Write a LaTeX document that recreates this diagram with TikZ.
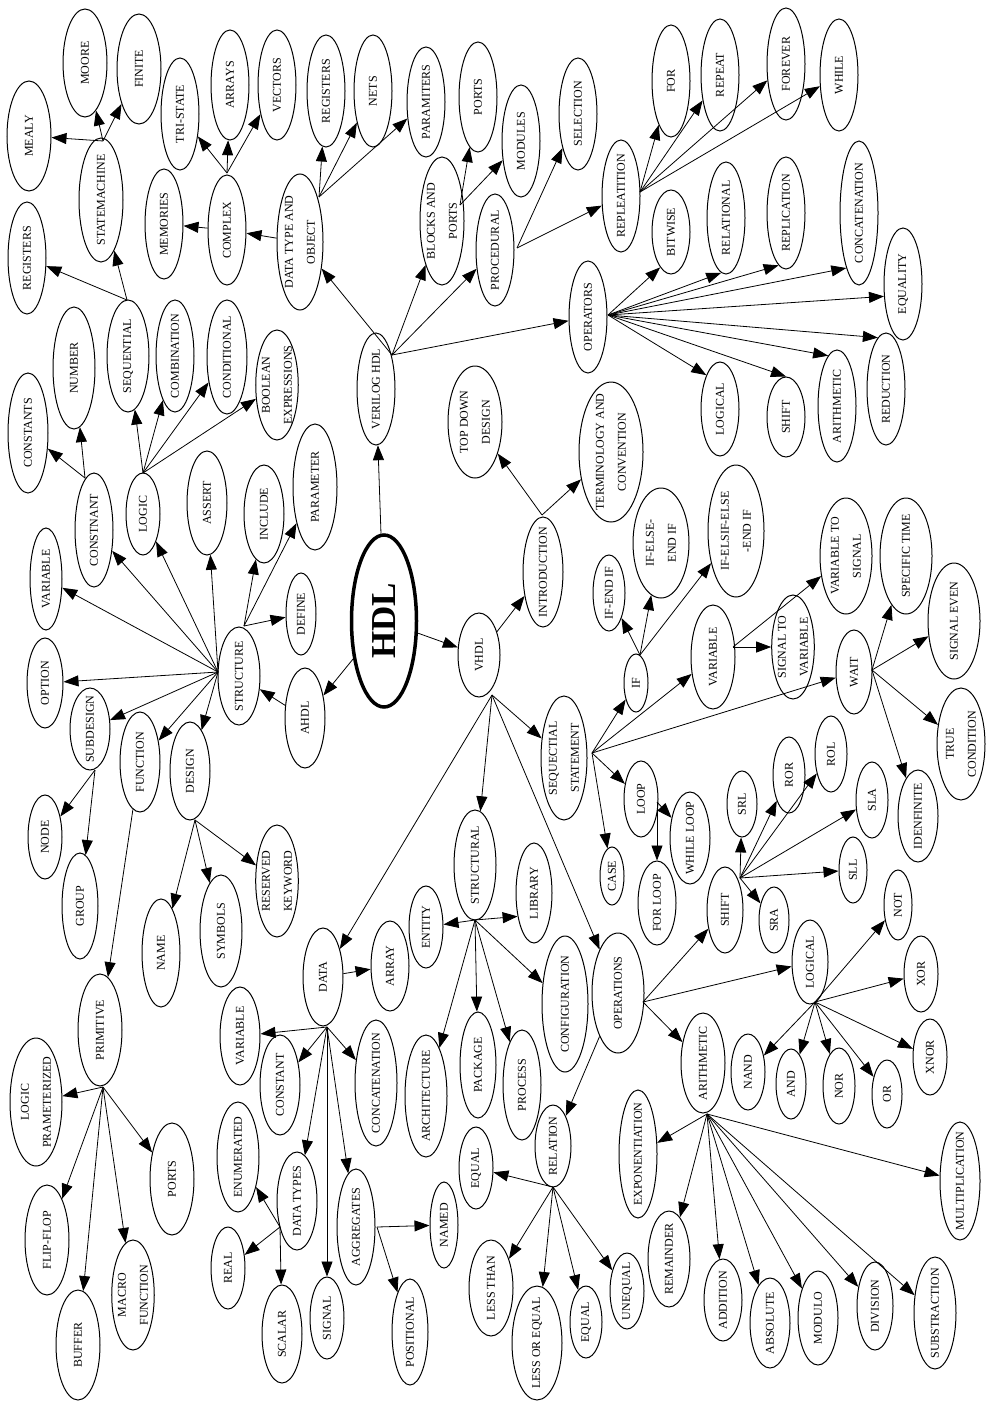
\documentclass[tikz,border=0pt]{standalone}
\usepackage{fontspec}
\setmainfont{Liberation Serif}
\usetikzlibrary{shapes.geometric, arrows.meta}

\begin{document}
\begin{tikzpicture}[x=1pt, y=-1pt, >={Triangle[length=15pt,width=11pt]},
    bub/.style={ellipse, draw, line width=1pt, rotate=90, inner xsep=-30pt, inner ysep=0pt,
                align=center, font=\fontsize{12}{22}\selectfont},
    sz/.style 2 args={minimum width=#1pt, minimum height=#2pt},
    arr/.style={->, line width=0.8pt}]
    \useasboundingbox (0,0) rectangle (985,1405);

    % 中心节点
    \node[bub, sz={172}{65}, line width=3.5pt, font=\fontsize{35}{40}\selectfont\bfseries] (hdl) at (384,621) {HDL};

    % 1. VERILOG HDL 分支
    \node[bub, sz={112}{38}] (verilog) at (376,389) {VERILOG HDL};
    \node[bub, sz={136}{46}] (dto) at (300,242) {DATA TYPE AND\\OBJECT};
    \node[bub, sz={112}{38}] (regdt) at (326,91) {REGISTERS};
    \node[bub, sz={112}{38}] (nets) at (373,91) {NETS};
    \node[bub, sz={110}{38}] (paramiters) at (426,102) {PARAMITERS};
    \node[bub, sz={110}{38}] (complex) at (227,230) {COMPLEX};
    \node[bub, sz={110}{38}] (memories) at (164,224) {MEMORIES};
    \node[bub, sz={112}{38}] (tristate) at (180,114) {TRI-STATE};
    \node[bub, sz={110}{38}] (arrays) at (230,85) {ARRAYS};
    \node[bub, sz={110}{38}] (vectors) at (277,85) {VECTORS};
    \node[bub, sz={128}{44}] (blocks) at (442,221) {BLOCKS AND\\PORTS};
    \node[bub, sz={110}{38}] (portsv) at (478,97) {PORTS};
    \node[bub, sz={112}{38}] (modules) at (521,141) {MODULES};
    \node[bub, sz={112}{38}] (procedural) at (495,250) {PROCEDURAL};
    \node[bub, sz={112}{38}] (selection) at (578,114) {SELECTION};
    \node[bub, sz={112}{38}] (repleatition) at (621,196) {REPLEATITION};
    \node[bub, sz={112}{38}] (for) at (671,81) {FOR};
    \node[bub, sz={112}{38}] (repeat) at (720,75) {REPEAT};
    \node[bub, sz={112}{38}] (forever) at (786,64) {FOREVER};
    \node[bub, sz={112}{38}] (while) at (839,75) {WHILE};
    \node[bub, sz={112}{38}] (operatorsv) at (588,317) {OPERATORS};
    \node[bub, sz={84}{38}] (bitwise) at (671,232) {BITWISE};
    \node[bub, sz={112}{38}] (relational) at (726,218) {RELATIONAL};
    \node[bub, sz={112}{38}] (replication) at (786,213) {REPLICATION};
    \node[bub, sz={144}{38}] (concatv) at (859,213) {CONCATENATION};
    \node[bub, sz={112}{38}] (equality) at (903,284) {EQUALITY};
    \node[bub, sz={112}{38}] (reduction) at (886,389) {REDUCTION};
    \node[bub, sz={112}{38}] (arithv) at (837,406) {ARITHMETIC};
    \node[bub, sz={80}{38}] (shiftv) at (786,417) {SHIFT};
    \node[bub, sz={94}{38}] (logicalv) at (720,409) {LOGICAL};

    % 2. AHDL 分支
    \node[bub, sz={100}{40}] (ahdl) at (305,718) {AHDL};
    \node[bub, sz={98}{42}] (structure) at (239,676) {STRUCTURE};
    \node[bub, sz={114}{38}] (constant) at (94,530) {CONSTNANT};
    \node[bub, sz={120}{40}] (constants) at (28,433) {CONSTANTS};
    \node[bub, sz={122}{42}] (number) at (74,368) {NUMBER};
    \node[bub, sz={82}{34}] (logic) at (143,514) {LOGIC};
    \node[bub, sz={112}{42}] (sequential) at (128,356) {SEQUENTIAL};
    \node[bub, sz={112}{38}] (combination) at (175,356) {COMBINATION};
    \node[bub, sz={114}{40}] (conditional) at (227,357) {CONDITIONAL};
    \node[bub, sz={110}{40}] (boolean) at (277,385) {BOOLEAN\\EXPRESSIONS};
    \node[bub, sz={112}{38}] (regseq) at (27,258) {REGISTERS};
    \node[bub, sz={124}{44}] (statemachine) at (101,200) {STATEMACHINE};
    \node[bub, sz={110}{44}] (mealy) at (29,136) {MEALY};
    \node[bub, sz={108}{44}] (moore) at (85,63) {MOORE};
    \node[bub, sz={110}{44}] (finite) at (139,69) {FINITE};
    \node[bub, sz={104}{40}] (assert) at (207,503) {ASSERT};
    \node[bub, sz={98}{40}] (include) at (264,514) {INCLUDE};
    \node[bub, sz={126}{44}] (parameter) at (315,487) {PARAMETER};
    \node[bub, sz={82}{30}] (define) at (301,614) {DEFINE};
    \node[bub, sz={102}{32}] (variablea) at (46,579) {VARIABLE};
    \node[bub, sz={90}{36}] (option) at (45,683) {OPTION};
    \node[bub, sz={82}{40}] (subdesign) at (90,729) {SUBDESIGN};
    \node[bub, sz={84}{34}] (node) at (45,837) {NODE};
    \node[bub, sz={106}{36}] (group) at (80,906) {GROUP};
    \node[bub, sz={100}{40}] (function) at (140,762) {FUNCTION};
    \node[bub, sz={98}{40}] (design) at (190,771) {DESIGN};
    \node[bub, sz={108}{38}] (name) at (161,953) {NAME};
    \node[bub, sz={112}{42}] (symbols) at (221,931) {SYMBOLS};
    \node[bub, sz={112}{36}] (reserved) at (277,881) {RESERVED\\KEYWORD};
    \node[bub, sz={112}{44}] (primitive) at (100,1030) {PRIMITIVE};
    \node[bub, sz={128}{52}] (logicpar) at (36,1102) {LOGIC\\PRAMETERIZED};
    \node[bub, sz={110}{44}] (flipflop) at (47,1240) {FLIP-FLOP};
    \node[bub, sz={110}{44}] (buffer) at (78,1345) {BUFFER};
    \node[bub, sz={110}{42}] (macro) at (133,1295) {MACRO\\FUNCTION};
    \node[bub, sz={112}{44}] (portsp) at (172,1179) {PORTS};

    % 3. VHDL 分支
    \node[bub, sz={84}{42}] (vhdl) at (479,655) {VHDL};
    \node[bub, sz={110}{40}] (intro) at (543,572) {INTRODUCTION};
    \node[bub, sz={112}{54}] (topdown) at (475,422) {TOP DOWN\\DESIGN};
    \node[bub, sz={140}{64}] (term) at (611,452) {TERMINOLOGY AND\\CONVENTION};
    \node[bub, sz={124}{46}] (seqst) at (564,758) {SEQUECTIAL\\STATEMENT};
    \node[bub, sz={58}{24}] (ifn) at (636,683) {IF};
    \node[bub, sz={76}{32}] (ifend) at (609,593) {IF-END IF};
    \node[bub, sz={110}{56}] (ifelse) at (661,543) {IF-ELSE-\\END IF};
    \node[bub, sz={132}{56}] (ifelsif) at (736,531) {IF-ELSIF-ELSE\\-END IF};
    \node[bub, sz={104}{44}] (variablev) at (713,657) {VARIABLE};
    \node[bub, sz={104}{40}] (sigtovar) at (793,647) {SIGNAL TO\\VARIABLE};
    \node[bub, sz={116}{52}] (vartosig) at (846,556) {VARIABLE TO\\SIGNAL};
    \node[bub, sz={84}{36}] (wait) at (854,672) {WAIT};
    \node[bub, sz={116}{52}] (spectime) at (906,556) {SPECIFIC TIME};
    \node[bub, sz={116}{52}] (sigeven) at (954,621) {SIGNAL EVEN};
    \node[bub, sz={112}{48}] (truecond) at (961,744) {TRUE\\CONDITION};
    \node[bub, sz={92}{40}] (idenfinite) at (918,816) {IDENFINITE};
    \node[bub, sz={76}{34}] (loop) at (641,799) {LOOP};
    \node[bub, sz={92}{40}] (whileloop) at (690,838) {WHILE LOOP};
    \node[bub, sz={84}{38}] (forloop) at (657,903) {FOR LOOP};
    \node[bub, sz={58}{24}] (case) at (612,876) {CASE};
    \node[bub, sz={120}{52}] (operations) at (618,993) {OPERATIONS};
    \node[bub, sz={86}{36}] (shift) at (725,910) {SHIFT};
    \node[bub, sz={66}{30}] (srl) at (742,804) {SRL};
    \node[bub, sz={76}{32}] (ror) at (789,775) {ROR};
    \node[bub, sz={76}{32}] (rol) at (831,754) {ROL};
    \node[bub, sz={76}{32}] (sla) at (872,800) {SLA};
    \node[bub, sz={66}{28}] (sll) at (853,870) {SLL};
    \node[bub, sz={66}{30}] (sra) at (774,920) {SRA};
    \node[bub, sz={84}{36}] (logicalh) at (810,962) {LOGICAL};
    \node[bub, sz={70}{28}] (not) at (898,905) {NOT};
    \node[bub, sz={76}{34}] (xor) at (921,974) {XOR};
    \node[bub, sz={76}{34}] (xnor) at (930,1057) {XNOR};
    \node[bub, sz={76}{34}] (nand) at (748,1072) {NAND};
    \node[bub, sz={70}{30}] (and) at (791,1084) {AND};
    \node[bub, sz={76}{32}] (nor) at (839,1086) {NOR};
    \node[bub, sz={68}{30}] (or) at (887,1094) {OR};
    \node[bub, sz={100}{44}] (arithh) at (703,1063) {ARITHMETIC};
    \node[bub, sz={128}{38}] (expon) at (638,1154) {EXPONENTIATION};
    \node[bub, sz={96}{42}] (remainder) at (669,1259) {REMAINDER};
    \node[bub, sz={82}{38}] (addition) at (723,1300) {ADDITION};
    \node[bub, sz={90}{40}] (absolute) at (770,1323) {ABSOLUTE};
    \node[bub, sz={94}{40}] (modulo) at (818,1318) {MODULO};
    \node[bub, sz={88}{36}] (division) at (875,1306) {DIVISION};
    \node[bub, sz={112}{42}] (substraction) at (935,1313) {SUBSTRACTION};
    \node[bub, sz={118}{40}] (multiplication) at (960,1181) {MULTIPLICATION};
    \node[bub, sz={82}{36}] (relation) at (553,1146) {RELATION};
    \node[bub, sz={82}{34}] (equalu) at (476,1168) {EQUAL};
    \node[bub, sz={96}{44}] (lessthan) at (491,1288) {LESS THAN};
    \node[bub, sz={114}{50}] (lessoreq) at (537,1343) {LESS OR EQUAL};
    \node[bub, sz={72}{32}] (equall) at (586,1322) {EQUAL};
    \node[bub, sz={76}{34}] (unequal) at (627,1291) {UNEQUAL};
    \node[bub, sz={110}{42}] (structural) at (475,865) {STRUCTURAL};
    \node[bub, sz={82}{34}] (entity) at (426,927) {ENTITY};
    \node[bub, sz={100}{36}] (library) at (534,893) {LIBRARY};
    \node[bub, sz={122}{42}] (architecture) at (426,1096) {ARCHITECTURE};
    \node[bub, sz={106}{36}] (package) at (478,1065) {PACKAGE};
    \node[bub, sz={110}{38}] (process) at (522,1085) {PROCESS};
    \node[bub, sz={136}{46}] (configuration) at (565,1004) {CONFIGURATION};
    \node[bub, sz={98}{40}] (data) at (323,977) {DATA};
    \node[bub, sz={90}{38}] (array) at (390,966) {ARRAY};
    \node[bub, sz={126}{42}] (concatd) at (376,1083) {CONCATENATION};
    \node[bub, sz={98}{40}] (variabled) at (240,1036) {VARIABLE};
    \node[bub, sz={100}{40}] (constantd) at (280,1085) {CONSTANT};
    \node[bub, sz={98}{40}] (datatypes) at (297,1201) {DATA TYPES};
    \node[bub, sz={110}{42}] (enumerated) at (238,1157) {ENUMERATED};
    \node[bub, sz={82}{34}] (real) at (228,1268) {REAL};
    \node[bub, sz={98}{40}] (scalar) at (282,1334) {SCALAR};
    \node[bub, sz={82}{34}] (signal) at (327,1318) {SIGNAL};
    \node[bub, sz={116}{38}] (aggregates) at (356,1227) {AGGREGATES};
    \node[bub, sz={86}{28}] (named) at (444,1225) {NAMED};
    \node[bub, sz={106}{36}] (positional) at (410,1332) {POSITIONAL};

    % 各节点的出线点
    \coordinate (verilog-o) at (392,355);
    \coordinate (dto-o) at (319,197);
    \coordinate (complex-o) at (227,173);
    \coordinate (sm-o) at (103,141);
    \coordinate (seq-o) at (127,300);
    \coordinate (logic-o) at (143,473);
    \coordinate (constant-o) at (85,478);
    \coordinate (blocks-o) at (460,205);
    \coordinate (procedural-o) at (517,248);
    \coordinate (repleat-o) at (640,192);
    \coordinate (operatorsv-o) at (608,315);
    \coordinate (structure-o) at (218,672);
    \coordinate (structure-p) at (244,626);
    \coordinate (subdesign-o) at (95,770);
    \coordinate (design-o) at (195,820);
    \coordinate (primitive-o) at (103,1087);
    \coordinate (vhdl-o) at (492,695);
    \coordinate (intro-o) at (542,515);
    \coordinate (seqst-o) at (592,753);
    \coordinate (if-o) at (640,655);
    \coordinate (variable-o) at (733,647);
    \coordinate (wait-o) at (872,670);
    \coordinate (loop-o) at (657,802);
    \coordinate (shift-o) at (740,878);
    \coordinate (operations-o) at (643,1002);
    \coordinate (logical-o) at (815,1002);
    \coordinate (arith-o) at (707,1114);
    \coordinate (relation-o) at (553,1187);
    \coordinate (structural-o) at (475,920);
    \coordinate (data-o) at (327,1027);
    \coordinate (datatypes-o) at (280,1227);
    \coordinate (aggregates-o) at (377,1227);

    % 连线：VERILOG HDL
    \draw[arr] (hdl) -- (verilog);
    \draw[arr] (verilog-o) -- (dto);
    \draw[arr] (verilog-o) -- (blocks);
    \draw[arr] (verilog-o) -- (procedural);
    \draw[arr] (verilog-o) -- (operatorsv);
    \draw[arr] (dto-o) -- (regdt);
    \draw[arr] (dto-o) -- (nets);
    \draw[arr] (dto-o) -- (paramiters);
    \draw[arr] (dto) -- (complex);
    \draw[arr] (complex) -- (memories);
    \draw[arr] (complex-o) -- (tristate);
    \draw[arr] (complex-o) -- (arrays);
    \draw[arr] (complex-o) -- (vectors);
    \draw[arr] (blocks-o) -- (portsv);
    \draw[arr] (blocks-o) -- (modules);
    \draw[arr] (procedural-o) -- (selection);
    \draw[arr] (procedural-o) -- (repleatition);
    \draw[arr] (repleat-o) -- (for);
    \draw[arr] (repleat-o) -- (repeat);
    \draw[arr] (repleat-o) -- (forever);
    \draw[arr] (repleat-o) -- (while);
    % 旋转节点的角度锚点：0 朝上，90 朝左，180 朝下
    \draw[arr] (operatorsv-o) -- (bitwise.163);
    \draw[arr] (operatorsv-o) -- (relational.175);
    \draw[arr] (operatorsv-o) -- (replication.172);
    \draw[arr] (operatorsv-o) -- (concatv.167);
    \draw[arr] (operatorsv-o) -- (equality.123);
    \draw[arr] (operatorsv-o) -- (reduction.9);
    \draw[arr] (operatorsv-o) -- (arithv.10);
    \draw[arr] (operatorsv-o) -- (shiftv.0);
    \draw[arr] (operatorsv-o) -- (logicalv.22);

    % 连线：AHDL
    \draw[arr] (hdl) -- (ahdl);
    \draw[arr] (ahdl) -- (structure);
    \draw[arr] (structure-o) -- (constant);
    \draw[arr] (structure-o) -- (logic);
    \draw[arr] (structure-o) -- (assert);
    \draw[arr] (structure-o) -- (variablea);
    \draw[arr] (structure-o) -- (option);
    \draw[arr] (structure-o) -- (subdesign);
    \draw[arr] (structure-o) -- (function);
    \draw[arr] (structure-o) -- (design);
    \draw[arr] (structure-p) -- (include);
    \draw[arr] (structure-p) -- (parameter);
    \draw[arr] (structure-p) -- (define);
    \draw[arr] (constant-o) -- (constants);
    \draw[arr] (constant-o) -- (number);
    \draw[arr] (logic-o) -- (sequential);
    \draw[arr] (logic-o) -- (combination);
    \draw[arr] (logic-o) -- (conditional);
    \draw[arr] (logic-o) -- (boolean);
    \draw[arr] (seq-o) -- (regseq);
    \draw[arr] (seq-o) -- (statemachine);
    \draw[arr] (sm-o) -- (mealy);
    \draw[arr] (sm-o) -- (moore);
    \draw[arr] (sm-o) -- (finite);
    \draw[arr] (subdesign-o) -- (node);
    \draw[arr] (subdesign-o) -- (group);
    \draw[arr] (function) -- (primitive);
    \draw[arr] (design-o) -- (name);
    \draw[arr] (design-o) -- (symbols);
    \draw[arr] (design-o) -- (reserved);
    \draw[arr] (primitive-o) -- (logicpar);
    \draw[arr] (primitive-o) -- (flipflop);
    \draw[arr] (primitive-o) -- (buffer);
    \draw[arr] (primitive-o) -- (macro);
    \draw[arr] (primitive-o) -- (portsp);

    % 连线：VHDL
    \draw[arr] (hdl) -- (vhdl);
    \draw[arr] (vhdl) -- (intro);
    \draw[arr] (intro-o) -- (topdown);
    \draw[arr] (intro-o) -- (term);
    \draw[arr] (vhdl-o) -- (data);
    \draw[arr] (vhdl-o) -- (structural);
    \draw[arr] (vhdl-o) -- (seqst);
    \draw[arr] (vhdl-o) -- (operations);
    \draw[arr] (seqst-o) -- (ifn);
    \draw[arr] (seqst-o) -- (variablev);
    \draw[arr] (seqst-o) -- (wait);
    \draw[arr] (seqst-o) -- (loop);
    \draw[arr] (seqst-o) -- (case);
    \draw[arr] (if-o) -- (ifend);
    \draw[arr] (if-o) -- (ifelse);
    \draw[arr] (if-o) -- (ifelsif);
    \draw[arr] (variable-o) -- (sigtovar);
    \draw[arr] (variable-o) -- (vartosig);
    \draw[arr] (wait-o) -- (spectime);
    \draw[arr] (wait-o) -- (sigeven);
    \draw[arr] (wait-o) -- (truecond);
    \draw[arr] (wait-o) -- (idenfinite);
    \draw[arr] (loop-o) -- (whileloop);
    \draw[arr] (loop-o) -- (forloop);
    \draw[arr] (operations-o) -- (shift);
    \draw[arr] (operations-o) -- (logicalh);
    \draw[arr] (operations-o) -- (arithh);
    \draw[arr] (operations) -- (relation);
    \draw[arr] (shift-o) -- (srl);
    \draw[arr] (shift-o) -- (ror);
    \draw[arr] (shift-o) -- (rol);
    \draw[arr] (shift-o) -- (sla);
    \draw[arr] (shift-o) -- (sll);
    \draw[arr] (shift-o) -- (sra);
    \draw[arr] (logical-o) -- (not);
    \draw[arr] (logical-o) -- (xor);
    \draw[arr] (logical-o) -- (xnor);
    \draw[arr] (logical-o) -- (nand);
    \draw[arr] (logical-o) -- (and);
    \draw[arr] (logical-o) -- (nor);
    \draw[arr] (logical-o) -- (or);
    \draw[arr] (arith-o) -- (expon);
    \draw[arr] (arith-o) -- (remainder);
    \draw[arr] (arith-o) -- (addition);
    \draw[arr] (arith-o) -- (absolute);
    \draw[arr] (arith-o) -- (modulo);
    \draw[arr] (arith-o) -- (division);
    \draw[arr] (arith-o) -- (substraction);
    \draw[arr] (arith-o) -- (multiplication);
    \draw[arr] (relation-o) -- (equalu);
    \draw[arr] (relation-o) -- (lessthan);
    \draw[arr] (relation-o) -- (lessoreq);
    \draw[arr] (relation-o) -- (equall);
    \draw[arr] (relation-o) -- (unequal);
    \draw[arr] (structural-o) -- (entity);
    \draw[arr] (structural-o) -- (library.145);
    \draw[arr] (structural-o) -- (architecture);
    \draw[arr] (structural-o) -- (package);
    \draw[arr] (structural-o) -- (process);
    \draw[arr] (structural-o) -- (configuration);
    \draw[arr] (data) -- (array);
    \draw[arr] (data-o) -- (variabled);
    \draw[arr] (data-o) -- (constantd);
    \draw[arr] (data-o) -- (datatypes);
    \draw[arr] (data-o) -- (signal);
    \draw[arr] (data-o) -- (aggregates);
    \draw[arr] (data-o) -- (concatd);
    \draw[arr] (datatypes-o) -- (enumerated);
    \draw[arr] (datatypes-o) -- (real);
    \draw[arr] (datatypes-o) -- (scalar);
    \draw[arr] (aggregates-o) -- (named);
    \draw[arr] (aggregates-o) -- (positional);
\end{tikzpicture}
\end{document}
